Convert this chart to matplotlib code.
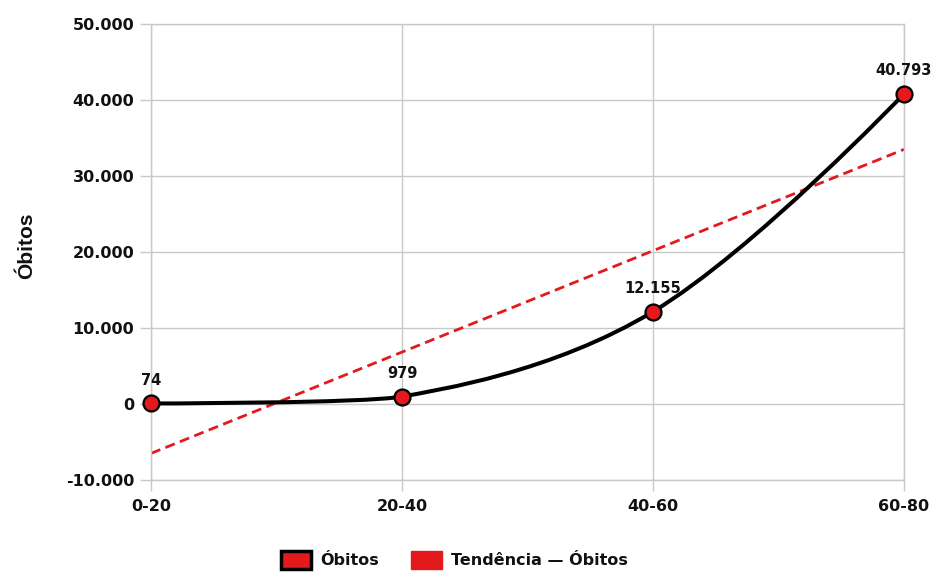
import numpy as np
import matplotlib
matplotlib.use("Agg")
import matplotlib.pyplot as plt
from matplotlib.patches import Patch
from matplotlib.path import Path
from matplotlib.patches import PathPatch
from matplotlib.ticker import FuncFormatter

plt.rcParams['font.family'] = ['DejaVu Sans']

categories = ['0-20', '20-40', '40-60', '60-80']
obitos = [74, 979, 12155, 40793]
labels = ['74', '979', '12.155', '40.793']
yticks = [-10000, 0, 10000, 20000, 30000, 40000, 50000]

RED = '#e3191c'
GRID = '#c8c8c8'
TXT = '#111111'

fig = plt.figure(figsize=(9.33, 5.72), dpi=100)
ax = fig.add_axes([151/933, 1 - 480/572, (904 - 151)/933, (480 - 24)/572])

x = np.arange(len(categories), dtype=float)
y = np.array(obitos, dtype=float)

# Smooth curve: cubic Bezier segments with neighbour-based tangents,
# scaled down where a control point would overshoot the segment range.
k = 0.2
n = len(x)
tang = np.zeros((n, 2))
for i in range(n):
    if 0 < i < n - 1:
        t = np.array([x[i + 1] - x[i - 1], y[i + 1] - y[i - 1]]) * k
        scale = 1.0
        for j, sgn in ((i - 1, -1), (i + 1, 1)):
            cy = y[i] + sgn * t[1]
            lo, hi = min(y[i], y[j]), max(y[i], y[j])
            if cy < lo and t[1] != 0:
                scale = min(scale, abs((y[i] - lo) / t[1]))
            if cy > hi and t[1] != 0:
                scale = min(scale, abs((hi - y[i]) / t[1]))
        tang[i] = t * scale
verts = [(x[0], y[0])]
codes = [Path.MOVETO]
for i in range(n - 1):
    c1 = (x[i] + tang[i, 0], y[i] + tang[i, 1])
    c2 = (x[i + 1] - tang[i + 1, 0], y[i + 1] - tang[i + 1, 1])
    verts += [c1, c2, (x[i + 1], y[i + 1])]
    codes += [Path.CURVE4] * 3
curve = PathPatch(Path(verts, codes), facecolor='none', edgecolor='black',
                  linewidth=2.9, zorder=3, capstyle='round', joinstyle='round')
ax.add_patch(curve)

# Linear trend
slope, intercept = np.polyfit(x, y, 1)
ax.plot([x[0], x[-1]], [intercept + slope * x[0], intercept + slope * x[-1]],
        color=RED, linewidth=2.0, dashes=(3.6, 2.0), zorder=2)

ax.plot(x, y, linestyle='none', marker='o', markersize=11.5,
        markerfacecolor=RED, markeredgecolor='black', markeredgewidth=1.6,
        zorder=4, clip_on=False)

for xi, yi, lab in zip(x, y, labels):
    ax.annotate(lab, (xi, yi), xytext=(0, 13.5), textcoords='offset points',
                ha='center', va='baseline', fontsize=10.5, fontweight='bold',
                color=TXT, annotation_clip=False)

ax.set_xlim(x[0], x[-1])
ax.set_ylim(-10000, 50000)
ax.set_xticks(x)
ax.set_xticklabels(categories)
ax.set_yticks(yticks)
ax.yaxis.set_major_formatter(FuncFormatter(lambda v, p: f"{int(v):,}".replace(',', '.')))
ax.grid(True, color=GRID, linewidth=1, zorder=0)
for s in ax.spines.values():
    s.set_color(GRID)
    s.set_linewidth(1)
ax.tick_params(axis='both', length=8, width=1, color=GRID, labelsize=11.5,
               labelcolor=TXT)
ax.tick_params(axis='y', pad=4)
ax.tick_params(axis='x', pad=6)
for lab in ax.get_xticklabels() + ax.get_yticklabels():
    lab.set_fontweight('bold')

fig.text(27/933, 1 - 246/572, 'Óbitos', rotation=90, ha='center', va='center',
         fontsize=15, fontweight='bold', color=TXT, family='Liberation Sans')

handles = [Patch(facecolor=RED, edgecolor='black', linewidth=2.5, label='Óbitos'),
           Patch(facecolor=RED, edgecolor=RED, linewidth=1, label='Tendência — Óbitos')]
leg = fig.legend(handles=handles, loc='lower center', bbox_to_anchor=(0.487, -0.02),
                 ncol=2, frameon=False, fontsize=11.5, handlelength=1.9,
                 handleheight=1.4, columnspacing=2.0, handletextpad=0.6)
for t in leg.get_texts():
    t.set_fontweight('bold')
    t.set_color(TXT)

fig.savefig('out.png', dpi=100)
